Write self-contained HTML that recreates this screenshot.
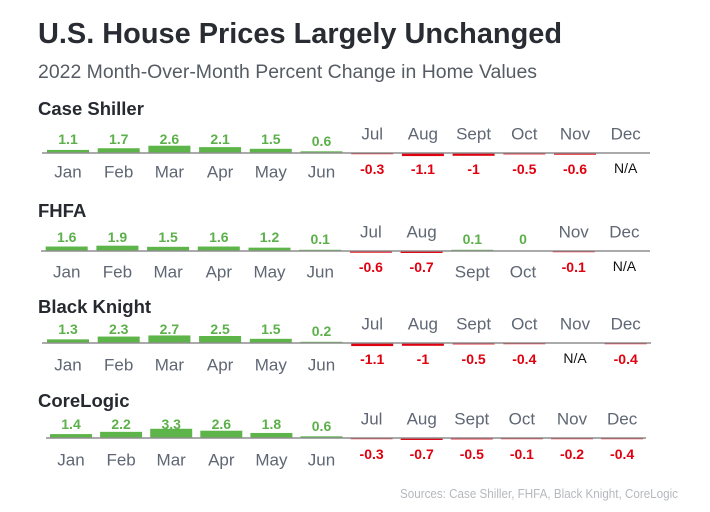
<!DOCTYPE html>
<html><head><meta charset="utf-8"><style>
html,body{margin:0;padding:0;background:#fff;}
svg{display:block;font-family:"Liberation Sans",Arial,sans-serif;}
.m{fill:#5f6774;font-size:17px;}
.g{fill:#5cb04a;font-size:14px;font-weight:bold;}
.r{fill:#e0000f;font-size:14px;font-weight:bold;}
.na{fill:#111;font-size:14px;}
.h{fill:#262a30;font-size:18.5px;font-weight:bold;}
</style></head><body>
<svg id="s" width="710" height="512" viewBox="0 0 710 512" xmlns="http://www.w3.org/2000/svg">
<text x="38" y="43" font-size="28.5" font-weight="bold" fill="#292d33" textLength="524" lengthAdjust="spacingAndGlyphs">U.S. House Prices Largely Unchanged</text>
<text x="38" y="78" font-size="19" fill="#555c64" textLength="499" lengthAdjust="spacingAndGlyphs">2022 Month-Over-Month Percent Change in Home Values</text>
<text class="h" x="38" y="115">Case Shiller</text>
<text class="h" x="38" y="217">FHFA</text>
<text class="h" x="38" y="313">Black Knight</text>
<text class="h" x="38" y="407">CoreLogic</text>
<text x="400" y="498" font-size="12.5" fill="#b5b9bd" textLength="278" lengthAdjust="spacingAndGlyphs">Sources: Case Shiller, FHFA, Black Knight, CoreLogic</text>
<g id="rows"></g>
</svg>
<script>
var months=["Jan","Feb","Mar","Apr","May","Jun","Jul","Aug","Sept","Oct","Nov","Dec"];
var rows=[
 {A:153,x0:68,p:50.7,ax:[42,650],mb:19,v:[1.1,1.7,2.6,2.1,1.5,0.6,-0.3,-1.1,-1,-0.5,-0.6,null]},
 {A:251,x0:66.7,p:50.7,ax:[41,650],mb:21,v:[1.6,1.9,1.5,1.6,1.2,0.1,-0.6,-0.7,0.1,0,-0.1,null]},
 {A:343,x0:68,p:50.7,ax:[42,651],mb:22,v:[1.3,2.3,2.7,2.5,1.5,0.2,-1.1,-1,-0.5,-0.4,null,-0.4]},
 {A:438,x0:71,p:50.1,ax:[46,646],mb:22,v:[1.4,2.2,3.3,2.6,1.8,0.6,-0.3,-0.7,-0.5,-0.1,-0.2,-0.4]}
];
var out="";
rows.forEach(function(r){
 r.v.forEach(function(v,i){
  var cx=r.x0+i*r.p;
  if(v===null){
   out+='<text class="m" x="'+cx+'" y="'+(r.A-19)+'" text-anchor="middle" dominant-baseline="central">'+months[i]+'</text>';
   out+='<text class="na" x="'+cx+'" y="'+(r.A+15)+'" text-anchor="middle" dominant-baseline="central">N/A</text>';
   return;
  }
  var h=Math.max(Math.abs(v)*2.8,1.2);
  if(v>=0){
   if(v>0) out+='<rect x="'+(cx-21)+'" y="'+(r.A-h)+'" width="42" height="'+h+'" fill="#5db449"/>';
   var off=(v<0.7&&i>=5)?12:14;
   out+='<text class="g" x="'+cx+'" y="'+(r.A-off)+'" text-anchor="middle" dominant-baseline="central">'+v+'</text>';
   out+='<text class="m" x="'+cx+'" y="'+(r.A+r.mb)+'" text-anchor="middle" dominant-baseline="central">'+months[i]+'</text>';
  }else{
   out+='<rect x="'+(cx-21)+'" y="'+r.A+'" width="42" height="'+h+'" fill="#e0000f"/>';
   out+='<text class="r" x="'+cx+'" y="'+(r.A+16)+'" text-anchor="middle" dominant-baseline="central">'+v+'</text>';
   out+='<text class="m" x="'+cx+'" y="'+(r.A-19)+'" text-anchor="middle" dominant-baseline="central">'+months[i]+'</text>';
  }
 });
 out+='<line x1="'+r.ax[0]+'" y1="'+r.A+'" x2="'+r.ax[1]+'" y2="'+r.A+'" stroke="#8e8e8e" stroke-width="1.4"/>';
});
document.getElementById("rows").innerHTML=out;
</script>
</body></html>
